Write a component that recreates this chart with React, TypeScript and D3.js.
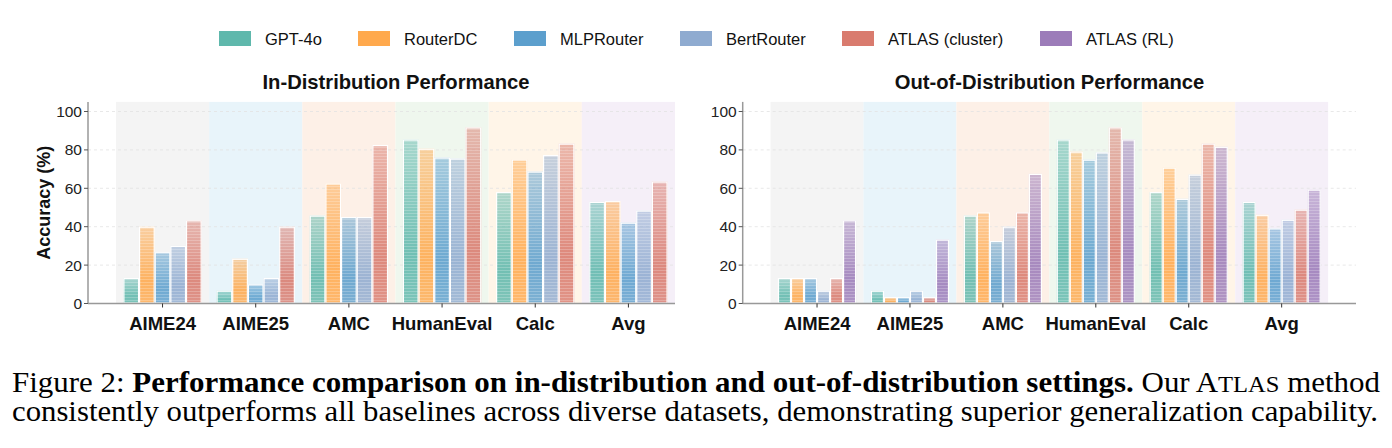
import React from 'react';
import * as d3 from 'd3';

const categories = ['AIME24', 'AIME25', 'AMC', 'HumanEval', 'Calc', 'Avg'];
const methods = ['GPT-4o', 'RouterDC', 'MLPRouter', 'BertRouter', 'ATLAS (cluster)', 'ATLAS (RL)'];
const methodColors = ['#5fb8ac', '#ffa94d', '#5c9fcd', '#8fabd0', '#d97b6e', '#9c7cb9'];
const bandColors = ['#f4f4f4', '#e8f4fa', '#fdf0e7', '#eff7ee', '#fff5e8', '#f5eff8'];
const yTicks = [0, 20, 40, 60, 80, 100];

// in-distribution: GPT-4o, RouterDC, MLPRouter, BertRouter, ATLAS (cluster)
const idGpt4o = [13.3, 6.7, 45.8, 85.4, 58.0, 52.9];
const idRouterDC = [40.0, 23.3, 62.5, 80.6, 75.0, 53.3];
const idMLPRouter = [26.7, 10.0, 45.0, 76.0, 68.7, 42.1];
const idBertRouter = [30.0, 13.3, 45.0, 75.5, 77.3, 48.4];
const idAtlasCluster = [43.3, 40.0, 82.5, 91.7, 83.3, 63.5];

// out-of-distribution: all six methods
const oodGpt4o = [13.3, 6.7, 45.8, 85.4, 58.0, 52.9];
const oodRouterDC = [13.3, 3.3, 47.5, 79.1, 70.8, 46.2];
const oodMLPRouter = [13.3, 3.3, 32.5, 74.9, 54.5, 39.1];
const oodBertRouter = [6.7, 6.7, 40.0, 78.7, 67.1, 43.6];
const oodAtlasCluster = [13.3, 3.3, 47.5, 91.7, 83.3, 48.9];
const oodAtlasRL = [43.3, 33.3, 67.5, 85.4, 81.6, 59.3];

const FONT = '"Liberation Sans", Arial, sans-serif';
const SERIF = '"Liberation Serif", "Times New Roman", serif';

interface PanelProps {
  title: string;
  titleX: number;
  series: number[][];
  x0: number;
  x1: number;
  xmax: number;
  showYLabel: boolean;
}

const Panel: React.FC<PanelProps> = ({ title, titleX, series, x0, x1, xmax, showYLabel }) => {
  const x = d3.scaleLinear().domain([-0.8, xmax]).range([x0, x1]);
  const y = d3.scaleLinear().domain([0, 105]).range([303.5, 101.9]);
  const n = series.length;
  const w = 0.84 / n;
  const pw = x(w) - x(0);

  return (
    <g>
      {categories.map((c, i) => (
        <rect key={c} x={x(i - 0.5)} y={y(105)} width={x(i + 0.5) - x(i - 0.5)} height={y(0) - y(105)} fill={bandColors[i]} />
      ))}
      {yTicks.slice(1).map(t => (
        <line key={t} x1={x0} x2={x1} y1={y(t)} y2={y(t)} stroke="#e2e2e2" strokeWidth={0.8} strokeDasharray="3,3" />
      ))}
      {series.map((vals, si) =>
        vals.map((v, ci) => {
          const cx = ci + (si - (n - 1) / 2) * w;
          const bx = x(cx - w / 2);
          const h = y(0) - y(v);
          return (
            <g key={`${si}-${ci}`}>
              <rect x={bx} y={y(v)} width={pw} height={h} fill={`url(#grad-${si})`} />
              <rect x={bx} y={y(v)} width={pw} height={h} fill="url(#stripe)" />
              <rect x={bx + 0.5} y={y(v) + 0.5} width={pw - 1} height={Math.max(0, h - 1)} fill="none" stroke="#fff" strokeWidth={1.2} />
            </g>
          );
        })
      )}
      <line x1={x0} x2={x0} y1={y(105)} y2={y(0)} stroke="#999" strokeWidth={1.5} />
      <line x1={x0} x2={x1} y1={y(0)} y2={y(0)} stroke="#999" strokeWidth={1.5} />
      {yTicks.map(t => (
        <g key={t}>
          <line x1={x0 - 4} x2={x0} y1={y(t)} y2={y(t)} stroke="#555" strokeWidth={1} />
          <text x={x0 - 6} y={y(t) + 5.5} textAnchor="end" fontSize={15.5} fill="#222" fontFamily={FONT}>{t}</text>
        </g>
      ))}
      {categories.map((c, i) => (
        <g key={c}>
          <line x1={x(i)} x2={x(i)} y1={y(0)} y2={y(0) + 4} stroke="#333" strokeWidth={1} />
          <text x={x(i)} y={330} textAnchor="middle" fontSize={18.5} fontWeight="bold" fill="#111" fontFamily={FONT}>{c}</text>
        </g>
      ))}
      <text x={titleX} y={89} textAnchor="middle" fontSize={20.2} fontWeight="bold" fill="#111" fontFamily={FONT}>{title}</text>
      {showYLabel && (
        <text transform={`translate(50,${(y(0) + y(105)) / 2}) rotate(-90)`} textAnchor="middle" fontSize={18} fontWeight="bold" fill="#111" fontFamily={FONT}>Accuracy (%)</text>
      )}
    </g>
  );
};

const legendX = [219, 358, 514, 680, 842, 1040];

export default function App() {
  const idSeries = [idGpt4o, idRouterDC, idMLPRouter, idBertRouter, idAtlasCluster];
  const oodSeries = [oodGpt4o, oodRouterDC, oodMLPRouter, oodBertRouter, oodAtlasCluster, oodAtlasRL];
  return (
    <svg width={1392} height={448} style={{ position: 'absolute', left: 0, top: 0, background: '#fff' }}>
      <defs>
        {methodColors.map((c, i) => (
          <linearGradient key={c} id={`grad-${i}`} x1="0" y1="0" x2="0" y2="1">
            <stop offset="0%" stopColor={c} stopOpacity={0.5} />
            <stop offset="70%" stopColor={c} stopOpacity={0.88} />
            <stop offset="100%" stopColor={c} stopOpacity={0.8} />
          </linearGradient>
        ))}
        <pattern id="stripe" width={4} height={3} patternUnits="userSpaceOnUse">
          <rect x={0} y={0} width={4} height={1} fill="#fff" opacity={0.22} />
        </pattern>
      </defs>
      <rect x={0} y={0} width={1392} height={448} fill="#fff" />
      {methods.map((m, i) => (
        <g key={m}>
          <rect x={legendX[i]} y={31} width={32} height={15} fill={methodColors[i]} />
          <text x={legendX[i] + 46} y={44.5} fontSize={16.5} fill="#111" fontFamily={FONT}>{m}</text>
        </g>
      ))}
      <Panel title="In-Distribution Performance" titleX={396} series={idSeries} x0={88} x1={675} xmax={5.5} showYLabel />
      <Panel title="Out-of-Distribution Performance" titleX={1049.5} series={oodSeries} x0={742.7} x1={1356} xmax={5.8} showYLabel={false} />
      <text x={12} y={392} fontSize={29} fontFamily={SERIF} fill="#000" textLength={1368} lengthAdjust="spacingAndGlyphs">
        Figure 2: <tspan fontWeight="bold">Performance comparison on in-distribution and out-of-distribution settings.</tspan> Our A<tspan fontSize={23}>TLAS</tspan> method
      </text>
      <text x={12} y={421} fontSize={29} fontFamily={SERIF} fill="#000" textLength={1366} lengthAdjust="spacingAndGlyphs">
        consistently outperforms all baselines across diverse datasets, demonstrating superior generalization capability.
      </text>
    </svg>
  );
}
